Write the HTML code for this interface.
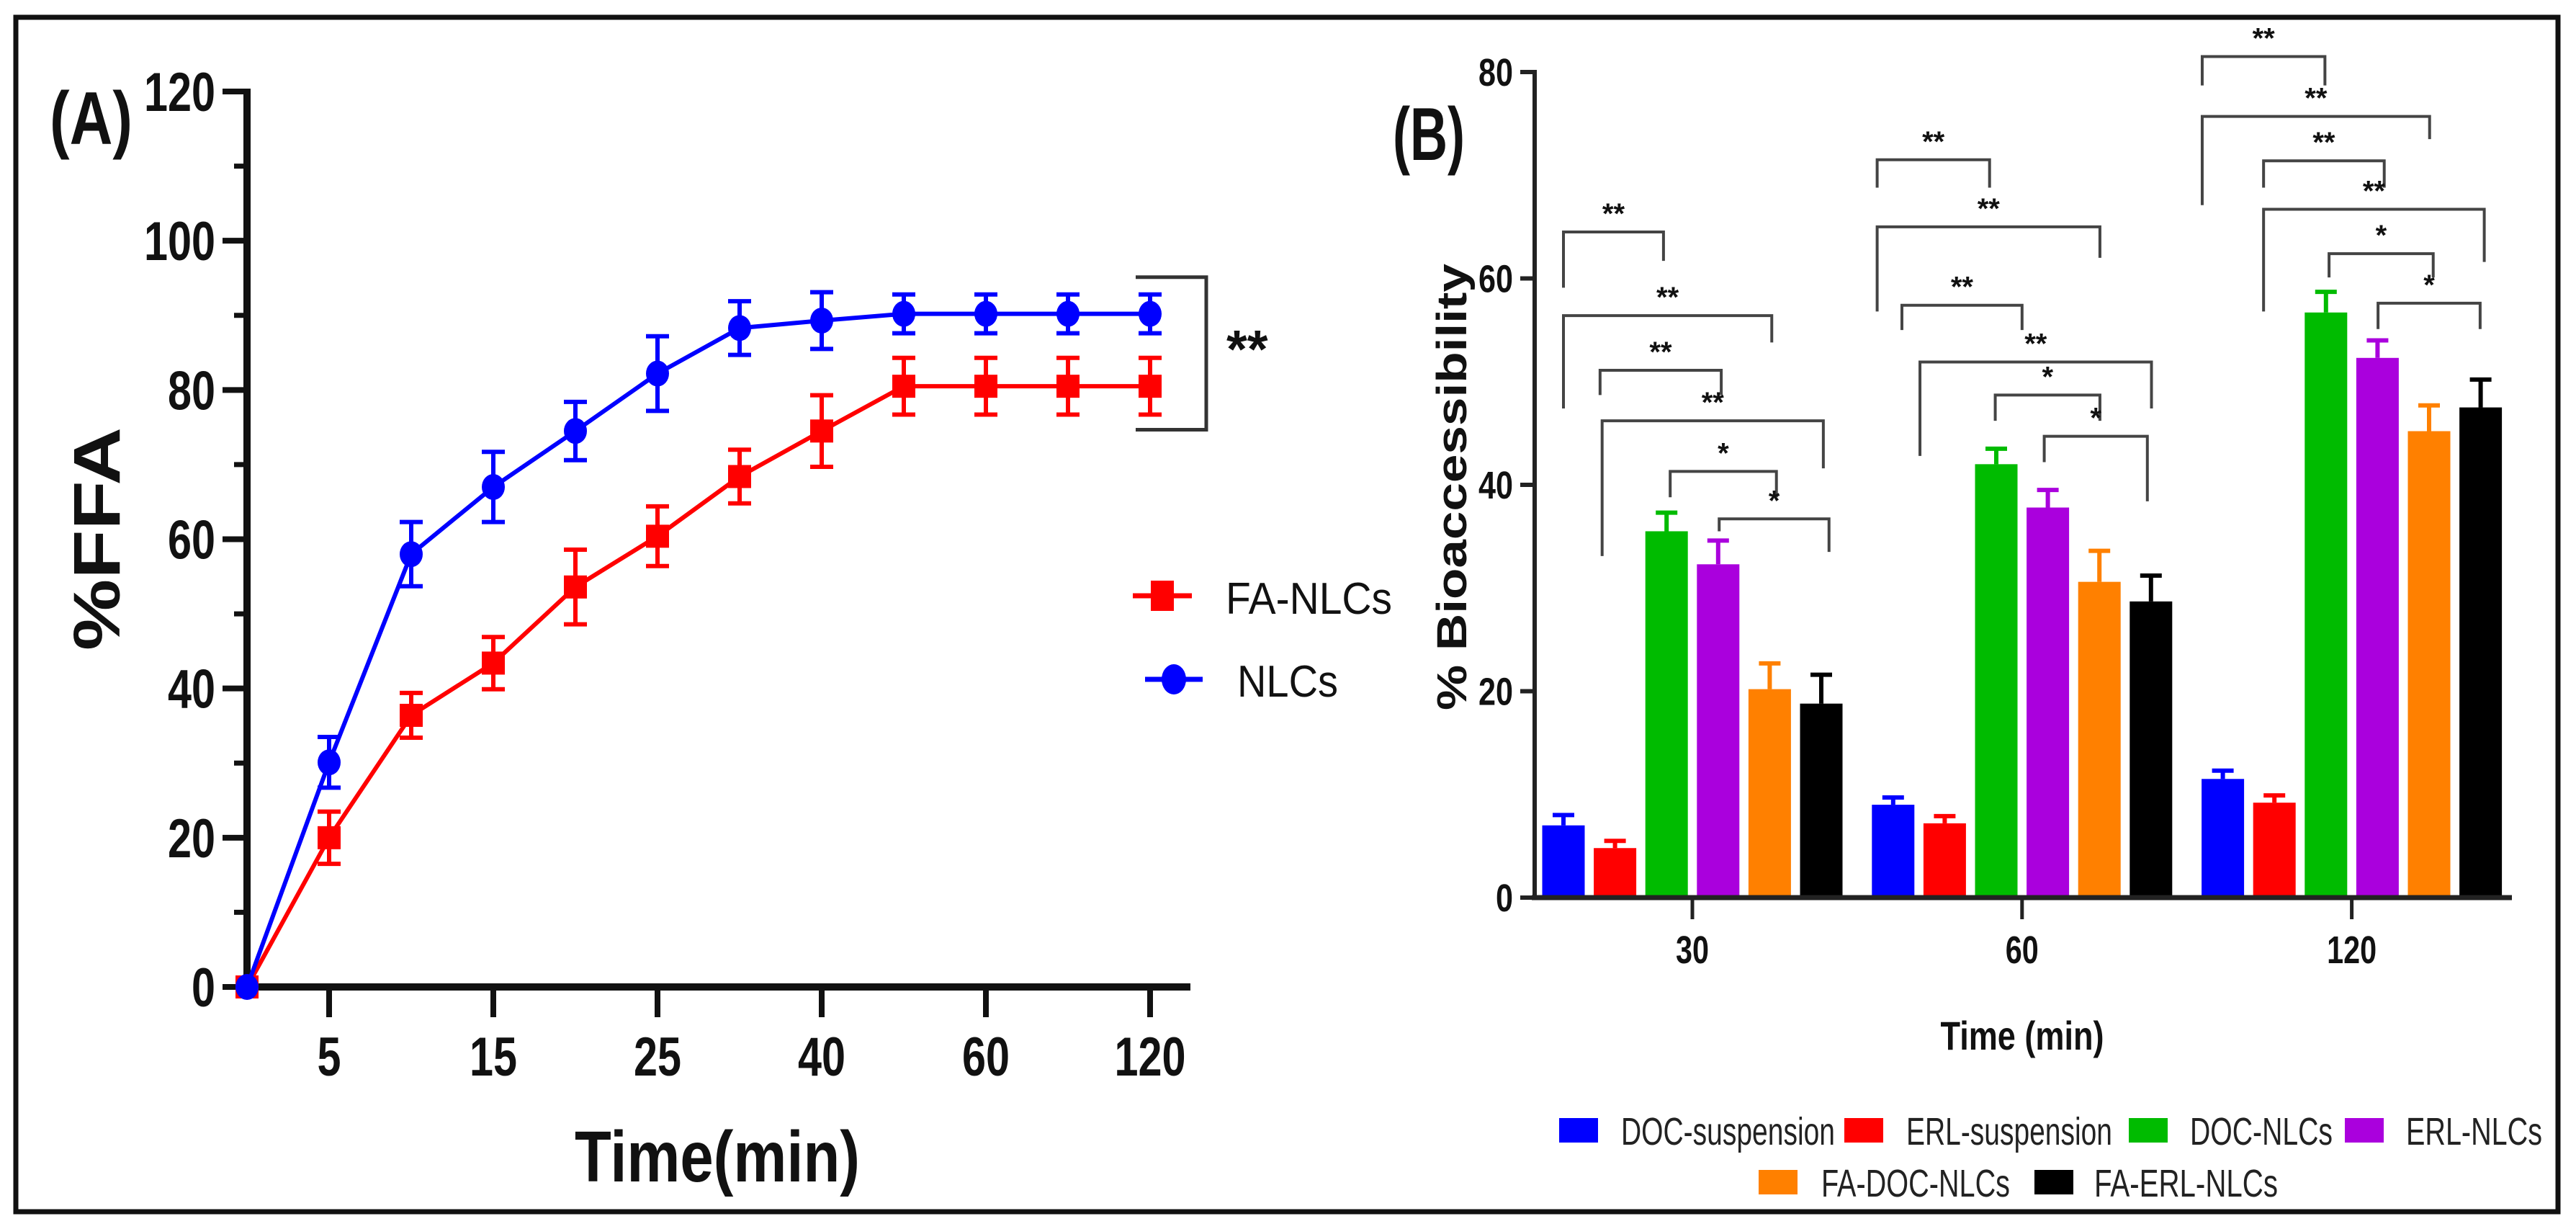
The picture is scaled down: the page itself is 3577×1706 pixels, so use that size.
<!DOCTYPE html>
<html><head><meta charset="utf-8"><style>
html,body{margin:0;padding:0;background:#fff}
svg{display:block}
text{font-family:"Liberation Sans Narrow","Liberation Sans",sans-serif;font-weight:bold;fill:#111}
</style></head><body>
<svg id="s" width="3577" height="1706" viewBox="0 0 3577 1706" xmlns="http://www.w3.org/2000/svg">
<rect x="22" y="24" width="3530" height="1658" fill="#fff" stroke="#111" stroke-width="7"/>
<g id="A"></g>
<g id="B"></g>
</svg>
<script>
// ---------- Panel A data ----------
const aTickLabels = ["5","15","25","40","60","120"];
const aTickIdx = [1,3,5,7,9,11];
const aYTicks = [0,20,40,60,80,100,120];
const aNLC = [0,30.1,58.0,67.0,74.5,82.2,88.3,89.3,90.2,90.2,90.2,90.2];
const aNLCerr = [0,3.4,4.3,4.7,3.9,5.0,3.6,3.8,2.6,2.6,2.6,2.6];
const aFA = [0,20.0,36.4,43.4,53.6,60.4,68.4,74.5,80.5,80.5,80.5,80.5];
const aFAerr = [0,3.5,3.0,3.5,5.0,4.0,3.6,4.8,3.8,3.8,3.8,3.8];
// ---------- Panel B data ----------
const bGroups = ["30","60","120"];
const bSeries = ["DOC-suspension","ERL-suspension","DOC-NLCs","ERL-NLCs","FA-DOC-NLCs","FA-ERL-NLCs"];
const bColors = ["#0000ff","#ff0000","#00bb00","#aa00dd","#ff8000","#000000"];
const bVals = [[7.0,4.8,35.5,32.3,20.2,18.8],[9.0,7.2,42.0,37.8,30.6,28.7],[11.5,9.2,56.7,52.3,45.2,47.5]];
const bErr = [[1.0,0.7,1.8,2.3,2.5,2.8],[0.7,0.7,1.5,1.7,3.0,2.5],[0.8,0.7,2.0,1.7,2.5,2.7]];
const bYTicks = [0,20,40,60,80];
// brackets: [group, leftSlot, rightSlot, topVal, leftBottomVal, rightBottomVal, label]
const bBrackets = [
 [0,0.0,1.94,64.5,59.1,61.7,"**"],[0,0.0,4.04,56.4,47.4,53.8,"**"],[0,0.71,3.06,51.1,48.7,48.7,"**"],
 [0,0.75,5.04,46.2,33.1,41.6,"**"],[0,2.07,4.13,41.3,38.8,38.8,"*"],[0,3.02,5.15,36.7,35.5,33.5,"*"],
 [1,-0.31,1.87,71.5,68.8,68.8,"**"],[1,-0.31,4.01,65.0,56.8,62.0,"**"],[1,0.17,2.5,57.4,55.0,55.0,"**"],
 [1,0.52,5.01,51.9,42.8,47.4,"**"],[1,1.98,4.01,48.7,46.2,46.2,"*"],[1,2.93,4.93,44.7,42.2,38.4,"*"],
 [2,-0.40,1.98,81.5,78.7,78.7,"**"],[2,-0.40,4.01,75.7,67.1,73.5,"**"],[2,0.79,3.13,71.4,68.8,68.8,"**"],
 [2,0.79,5.07,66.7,56.8,61.6,"**"],[2,2.06,4.08,62.4,60.1,60.1,"*"],[2,3.01,4.99,57.6,55.1,55.1,"*"]
];

const NS="http://www.w3.org/2000/svg";
function mk(parent,tag,attrs,txt){const e=document.createElementNS(NS,tag);for(const k in attrs)e.setAttribute(k,attrs[k]);if(txt!==undefined)e.textContent=txt;parent.appendChild(e);return e;}

// ---------- Panel A ----------
const A=document.getElementById('A');
const ax0=343, aStep=114, ay0=1370, ayPer=(1370-127)/120;
const axX=i=>ax0+aStep*i;
const ayY=v=>ay0-v*ayPer;
let e;
// minor ticks
for(let v=10;v<120;v+=20){e=mk(A,'line',{x1:ax0-18,x2:ax0,y1:ayY(v),y2:ayY(v),stroke:'#111','stroke-width':7});

}
aYTicks.forEach(v=>{
 e=mk(A,'line',{x1:ax0-34,x2:ax0,y1:ayY(v),y2:ayY(v),stroke:'#111','stroke-width':8});
 
 
 e=mk(A,'text',{x:ax0-44,y:ayY(v)+27,'text-anchor':'end','font-size':76,textLength:String(v).length*33,lengthAdjust:'spacingAndGlyphs'},String(v));
 
 
});
aTickIdx.forEach((ti,k)=>{
 e=mk(A,'line',{x1:axX(ti),x2:axX(ti),y1:ay0,y2:ay0+42,stroke:'#111','stroke-width':8});
 
 
 e=mk(A,'text',{x:axX(ti),y:1493,'text-anchor':'middle','font-size':76,textLength:aTickLabels[k].length*33,lengthAdjust:'spacingAndGlyphs'},aTickLabels[k]);
 
 
});
e=mk(A,'line',{x1:ax0,x2:ax0,y1:123,y2:ay0+5,stroke:'#111','stroke-width':10});


e=mk(A,'line',{x1:ax0-5,x2:1653,y1:ay0,y2:ay0,stroke:'#111','stroke-width':10});


function drawSeries(vals,errs,color,shape,name){
 const pts=vals.map((v,i)=>axX(i)+','+ayY(v)).join(' ');
 e=mk(A,'polyline',{points:pts,fill:'none',stroke:color,'stroke-width':6});
 
 
 vals.forEach((v,i)=>{
  const x=axX(i),y=ayY(v),t=ayY(v+errs[i]),b=ayY(v-errs[i]);
  if(errs[i]>0){
   e=mk(A,'path',{d:`M${x},${t}V${b}M${x-16},${t}H${x+16}M${x-16},${b}H${x+16}`,stroke:color,'stroke-width':6,fill:'none'});
   
   
  }
  if(shape==='sq'){e=mk(A,'rect',{x:x-16,y:y-16,width:32,height:32,fill:color});}
  else{e=mk(A,'ellipse',{cx:x,cy:y,rx:16,ry:18,fill:color});}
  
  
 });
}
drawSeries(aFA,aFAerr,'#ff0000','sq','fa-nlcs');
drawSeries(aNLC,aNLCerr,'#0000ff','ci','nlcs');
// significance bracket
e=mk(A,'path',{d:`M1577,${ayY(aNLC[11]+2.6)-24}H1675V${ayY(aFA[11]-3.8)+21}H1577`,fill:'none',stroke:'#333','stroke-width':5});


e=mk(A,'text',{x:1703,y:510,'font-size':74,'font-family':'Liberation Sans'},'**');


// legend
e=mk(A,'line',{x1:1573,x2:1655,y1:827,y2:827,stroke:'#ff0000','stroke-width':7});


e=mk(A,'rect',{x:1598,y:806,width:32,height:42,fill:'#ff0000'});


e=mk(A,'text',{x:1702,y:852,'font-size':62,'font-weight':'normal',textLength:231,lengthAdjust:'spacingAndGlyphs',style:'font-weight:normal'},'FA-NLCs');


e=mk(A,'line',{x1:1590,x2:1670,y1:943,y2:943,stroke:'#0000ff','stroke-width':7});


e=mk(A,'ellipse',{cx:1630,cy:943,rx:17,ry:21,fill:'#0000ff'});


e=mk(A,'text',{x:1718,y:967,'font-size':62,textLength:140,lengthAdjust:'spacingAndGlyphs',style:'font-weight:normal'},'NLCs');


// titles
e=mk(A,'text',{x:69,y:200,'font-size':104,textLength:115,lengthAdjust:'spacingAndGlyphs'},'(A)');


e=mk(A,'text',{x:0,y:0,'font-size':92,'text-anchor':'middle',textLength:310,lengthAdjust:'spacingAndGlyphs',transform:'translate(166,748) rotate(-90)',style:'font-family:"Liberation Sans",sans-serif'},'%FFA');


e=mk(A,'text',{x:996,y:1640,'font-size':100,'text-anchor':'middle',textLength:396,lengthAdjust:'spacingAndGlyphs'},'Time(min)');



// ---------- Panel B ----------
const B=document.getElementById('B');
const bx0=2131, by0=1246, byPer=(1246-100)/80, gCenter0=2350, gStep=457.8, pitch=71.6, bw=59;
const byY=v=>by0-v*byPer;
const slotX=(g,s)=>gCenter0+g*gStep+(s-2.5)*pitch;
bYTicks.forEach(v=>{
 e=mk(B,'line',{x1:bx0-20,x2:bx0,y1:byY(v),y2:byY(v),stroke:'#222','stroke-width':6});
 
 
 e=mk(B,'text',{x:bx0-30,y:byY(v)+19,'text-anchor':'end','font-size':54,textLength:String(v).length*24,lengthAdjust:'spacingAndGlyphs'},String(v));
 
 
});
bGroups.forEach((gname,g)=>{
 const cx=slotX(g,2.5);
 e=mk(B,'line',{x1:cx,x2:cx,y1:by0,y2:by0+30,stroke:'#222','stroke-width':5});
 
 
 e=mk(B,'text',{x:cx,y:1337,'text-anchor':'middle','font-size':54,textLength:gname.length*23,lengthAdjust:'spacingAndGlyphs'},gname);
 
 
 bVals[g].forEach((v,s)=>{
  const x=slotX(g,s), top=byY(v), et=byY(v+bErr[g][s]);
  e=mk(B,'path',{d:`M${x},${top}V${et}M${x-15},${et}H${x+15}`,stroke:bColors[s],'stroke-width':6,fill:'none'});
  
  
  e=mk(B,'rect',{x:x-bw/2,y:top,width:bw,height:by0-top,fill:bColors[s]});
  
  
 });
});
e=mk(B,'line',{x1:bx0,x2:bx0,y1:97,y2:by0+3,stroke:'#222','stroke-width':6});


e=mk(B,'line',{x1:bx0-4,x2:3488,y1:by0,y2:by0,stroke:'#222','stroke-width':7});


bBrackets.forEach(br=>{
 const [g,ls,rs,tv,lb,rb,lab]=br;
 const xl=slotX(g,ls), xr=slotX(g,rs), yt=byY(tv);
 e=mk(B,'path',{d:`M${xl},${byY(lb)}V${yt}H${xr}V${byY(rb)}`,fill:'none',stroke:'#444','stroke-width':4});
 
 
 e=mk(B,'text',{x:(xl+xr)/2,y:yt-12,'text-anchor':'middle','font-size':40,'font-family':'Liberation Sans'},lab);
 
 
});
e=mk(B,'text',{x:1934,y:222,'font-size':104,textLength:100,lengthAdjust:'spacingAndGlyphs'},'(B)');


e=mk(B,'text',{x:0,y:0,'font-size':58,'text-anchor':'middle',textLength:620,lengthAdjust:'spacingAndGlyphs',transform:'translate(2036,676) rotate(-90)',style:'font-family:"Liberation Sans",sans-serif'},'% Bioaccessibility');


e=mk(B,'text',{x:2808,y:1457,'text-anchor':'middle','font-size':56,textLength:227,lengthAdjust:'spacingAndGlyphs'},'Time (min)');


// legend B: [swatchX, textX, textWidth, rowY]
const legendLayout=[[2165,2251,297,1569],[2561,2647,286,1569],[2956,3041,198,1569],[3256,3341,189,1569],[2442,2529,262,1641],[2825,2908,255,1641]];
bSeries.forEach((nm,s)=>{
 const L=legendLayout[s];
 e=mk(B,'rect',{x:L[0],y:L[3]-17,width:54,height:34,fill:bColors[s]});
 
 
 e=mk(B,'text',{x:L[1],y:L[3]+20,'font-size':54,textLength:L[2],lengthAdjust:'spacingAndGlyphs',style:'font-weight:normal;fill:#222'},nm);
 
 
});
</script>
</body></html>
